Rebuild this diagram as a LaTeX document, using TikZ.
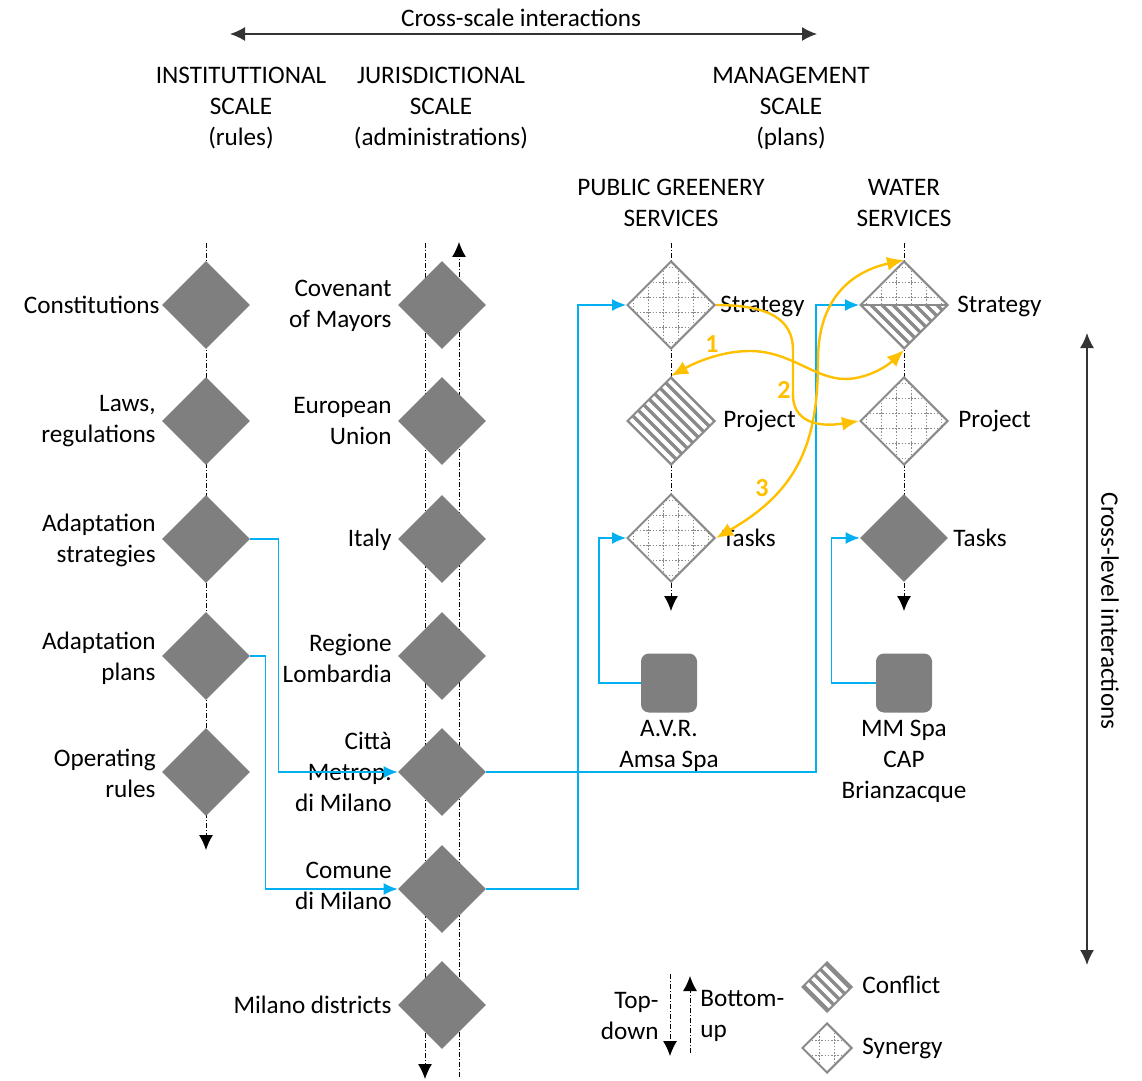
\documentclass[tikz,border=0pt]{standalone}
\usepackage{fontspec}
\setmainfont{Carlito}
\usetikzlibrary{shapes.geometric,arrows.meta,calc}
\definecolor{dgray}{HTML}{7F7F7F}
\definecolor{lgray}{HTML}{8A8A8A}
\definecolor{cblue}{HTML}{00B0F0}
\definecolor{cyel}{HTML}{FFC000}
\definecolor{axl}{HTML}{333333}
\newcommand\synGrid{%
  \foreach \k in {-4,...,3}{%
    \draw[lgray, line width=0.7pt, dash pattern=on 0.8pt off 0.8pt]
      ([xshift=\k*7.5pt+3.75pt, yshift=-30pt]path picture bounding box.center) -- ++(0pt,60pt);
    \draw[lgray, line width=0.7pt, dash pattern=on 0.8pt off 0.8pt]
      ([yshift=\k*7.5pt+3.75pt, xshift=-30pt]path picture bounding box.center) -- ++(60pt,0pt);
  }}
\newcommand\conStripes{%
  \foreach \k in {-9,...,9}{%
    \draw[lgray, line width=1.6pt]
      ([xshift=\k*5.5pt]path picture bounding box.center) ++(-32pt,32pt) -- ++(64pt,-64pt);
  }}
\tikzset{
  dia/.style={diamond, aspect=1, minimum width=44pt, minimum height=44pt, inner sep=0pt},
  full/.style={dia, fill=dgray},
  syn/.style={dia, fill=white, draw=lgray, line width=1pt, path picture={\synGrid}},
  con/.style={dia, fill=white, draw=lgray, line width=1pt, path picture={\conStripes}},
  half/.style={dia, fill=white, draw=lgray, line width=1pt, path picture={%
     \begin{scope}\clip ([xshift=-30pt]path picture bounding box.center) rectangle ++(60pt,30pt);\synGrid\end{scope}
     \begin{scope}\clip ([xshift=-30pt]path picture bounding box.center) rectangle ++(60pt,-30pt);\conStripes\end{scope}
     \draw[lgray, line width=1.4pt] (path picture bounding box.west) -- (path picture bounding box.east);}},
  small/.style={minimum width=25pt, minimum height=25pt},
  sq/.style={rectangle, rounded corners=4pt, fill=dgray, minimum width=28pt, minimum height=29.5pt, inner sep=0pt},
  lbl/.style={inner sep=0pt},
  ddash/.style={line width=0.5pt, dash pattern=on 2.5pt off 1pt on 0.5pt off 1pt},
  btip/.style={-{Latex[length=7.5pt,width=7pt]}},
  axis/.style={axl, line width=0.75pt, {Latex[length=7.5pt,width=7pt]}-{Latex[length=7.5pt,width=7pt]}},
  blink/.style={cblue, line width=0.7pt, -{Latex[length=7pt,width=6pt]}},
  ylink/.style={cyel, line width=1.2pt},
  num/.style={text=cyel, font=\fontsize{13pt}{15pt}\selectfont\bfseries, inner sep=0pt},
}
\begin{document}
\begin{tikzpicture}[x=0.5pt, y=-0.5pt, font=\fontsize{12.6pt}{15.5pt}\selectfont]
\fill[white] (0,0) rectangle (1142,1081);
\useasboundingbox (0,0) rectangle (1142,1081);

% header
\node[lbl] (hcs) at (521,18) {Cross-scale interactions};
\coordinate (csL) at (230,34);
\coordinate (csR) at (817,34);
\draw[axis] (csL) -- (csR);
\node[lbl, align=center] (hinst) at (241,108) {INSTITUTTIONAL\\SCALE\\(rules)};
\node[lbl, align=center] (hjur) at (441,108) {JURISDICTIONAL\\SCALE\\(administrations)};
\node[lbl, align=center] (hman) at (791,108) {MANAGEMENT\\SCALE\\(plans)};
\node[lbl, align=center] (hpg) at (671,203) {PUBLIC GREENERY\\SERVICES};
\node[lbl, align=center] (hws) at (904,203) {WATER\\SERVICES};

% cross-level
\coordinate (clT) at (1087,333);
\coordinate (clB) at (1087,965);
\draw[axis] (clT) -- (clB);
\node[lbl, rotate=-90] (hcl) at (1110,611) {Cross-level interactions};

% dash-dot flow lines
\coordinate (c1t) at (206,243); \coordinate (c1b) at (206,850);
\draw[ddash, btip] (c1t) -- (c1b);
\coordinate (c2t) at (425,243); \coordinate (c2b) at (425,1079);
\draw[ddash, btip] (c2t) -- (c2b);
\coordinate (c2ub) at (459,1077); \coordinate (c2ut) at (459,242);
\draw[ddash, btip] (c2ub) -- (c2ut);
\coordinate (c3t) at (671,243); \coordinate (c3b) at (671,611);
\draw[ddash, btip] (c3t) -- (c3b);
\coordinate (c4t) at (904,243); \coordinate (c4b) at (904,611);
\draw[ddash, btip] (c4t) -- (c4b);

% column 1
\node[full] (I1) at (206,305) {};
\node[full] (I2) at (206,421) {};
\node[full] (I3) at (206,539) {};
\node[full] (I4) at (206,656) {};
\node[full] (I5) at (206,772) {};
% column 2
\node[full] (J1) at (442,305) {};
\node[full] (J2) at (442,421) {};
\node[full] (J3) at (442,539) {};
\node[full] (J4) at (442,656) {};
\node[full] (J5) at (442,772) {};
\node[full] (J6) at (442,889) {};
\node[full] (J7) at (442,1005) {};
% column 3
\node[syn] (GS) at (671,305) {};
\node[con] (GP) at (671,421) {};
\node[syn] (GT) at (671,538) {};
% column 4
\node[half] (WS) at (904,305) {};
\node[syn] (WP) at (904,421) {};
\node[full] (WT) at (904,538) {};
% squares
\node[sq] (AVR) at (669,683) {};
\node[sq] (MM) at (904,683) {};

% labels col 1
\node[lbl, anchor=east] (l11) at (160,305) {Constitutions};
\node[lbl, anchor=east, align=right] (l12) at (156,421) {Laws,\\regulations};
\node[lbl, anchor=east, align=right] (l13) at (156,540) {Adaptation\\strategies};
\node[lbl, anchor=east, align=right] (l14) at (156,658) {Adaptation\\plans};
\node[lbl, anchor=east, align=right] (l15) at (156,773) {Operating\\rules};
% labels col 2
\node[lbl, anchor=east, align=right] (l21) at (392,306) {Covenant\\of Mayors};
\node[lbl, anchor=east, align=right] (l22) at (392,421) {European\\Union};
\node[lbl, anchor=east] (l23) at (392,540) {Italy};
\node[lbl, anchor=east, align=right] (l24) at (392,658) {Regione\\Lombardia};
\node[lbl, anchor=east, align=right] (l25) at (392,772) {Città\\Metrop.\\di Milano};
\node[lbl, anchor=east, align=right] (l26) at (392,886) {Comune\\di Milano};
\node[lbl, anchor=east] (l27) at (392,1005) {Milano districts};
% labels col 3/4
\node[lbl, anchor=west] (l31) at (720,306) {Strategy};
\node[lbl, anchor=west] (l32) at (723,421) {Project};
\node[lbl, anchor=west] (l33) at (722,538) {Tasks};
\node[lbl, anchor=west] (l41) at (957,306) {Strategy};
\node[lbl, anchor=west] (l42) at (958,421) {Project};
\node[lbl, anchor=west] (l43) at (953,538) {Tasks};
\node[lbl, align=center] (lavr) at (669,746) {A.V.R.\\Amsa Spa};
\node[lbl, align=center] (lmm) at (904,761) {MM Spa\\CAP\\Brianzacque};

% blue links
\draw[blink] (I3.east) -- ++(28,0) |- (J5.west);
\draw[blink] (I4.east) -- ++(15,0) |- (J6.west);
\draw[blink] (J5.east) -| ([xshift=-21.5pt]WS.west) -- (WS.west);
\draw[blink] (J6.east) -| ([xshift=-24pt]GS.west) -- (GS.west);
\draw[blink] (AVR.west) -| ([xshift=-13.5pt]GT.west) -- (GT.west);
\draw[blink] (MM.west) -| ([xshift=-14pt]WT.west) -- (WT.west);

% yellow links
\draw[ylink, {Latex[length=8.5pt,width=7pt]}-{Latex[length=8.5pt,width=7pt]}] (GP.north)
  .. controls (700,360) and (725,351) .. (750,351)
  .. controls (790,351) and (815,379) .. (845,379)
  .. controls (865,379) and (885,368) .. (WS.south);
\draw[ylink, -{Latex[length=8.5pt,width=7pt]}] (GS.east)
  .. controls (770,305) and (793,320) .. (793,350)
  -- (793,395)
  .. controls (793,420) and (815,428) .. (WP.west);
\draw[ylink, {Latex[length=8.5pt,width=7pt]}-{Latex[length=8.5pt,width=7pt]}] (WS.north)
  .. controls (850,272) and (818,300) .. (818,360)
  .. controls (818,440) and (800,490) .. (GT.east);
\node[num] (n1) at (712,344) {1};
\node[num] (n2) at (784,390) {2};
\node[num] (n3) at (762,488) {3};

% legend
\coordinate (lgdT) at (670,974); \coordinate (lgdB) at (670,1056);
\draw[ddash, btip] (lgdT) -- (lgdB);
\coordinate (lguB) at (690,1053); \coordinate (lguT) at (690,976);
\draw[ddash, btip] (lguB) -- (lguT);
\node[lbl, anchor=east, align=right] (ltd) at (659,1016) {Top-\\down};
\node[lbl, anchor=west, align=left] (lbu) at (700,1016) {Bottom-\\up};
\node[con, small] (LC) at (827,987) {};
\node[syn, small] (LS) at (827,1048) {};
\node[lbl, anchor=west] (lcon) at (862,985) {Conflict};
\node[lbl, anchor=west] (lsyn) at (862,1048) {Synergy};
\end{tikzpicture}
\end{document}
